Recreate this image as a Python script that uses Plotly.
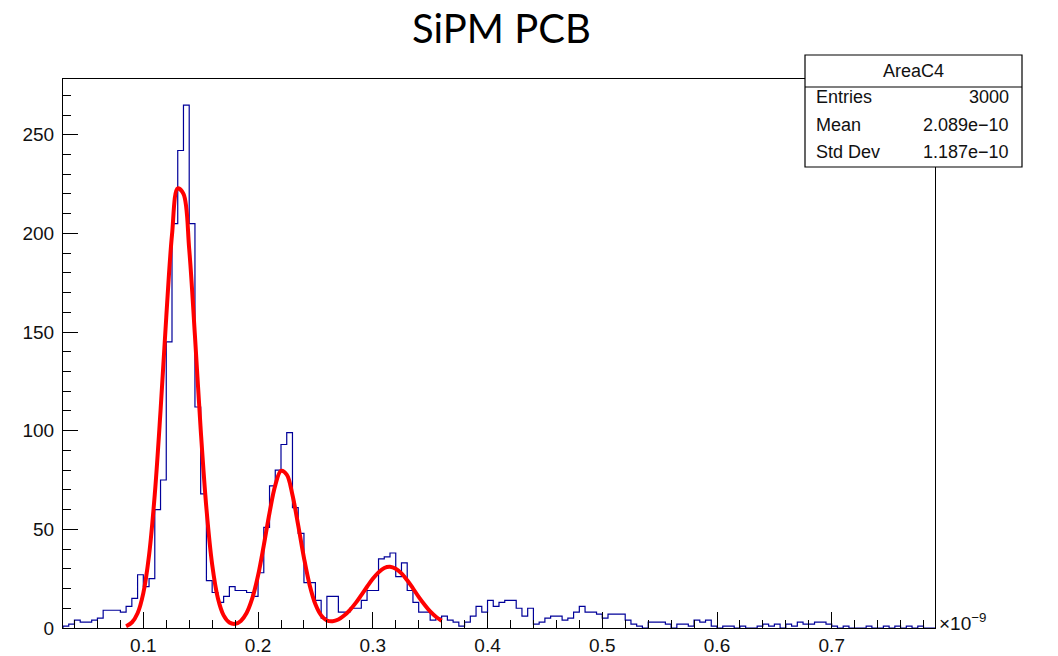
import numpy as np
import plotly.graph_objects as go

# ---- data ----
BIN_LO = 0.03
BIN_W = 0.005
counts = [1, 2, 4, 3, 3, 4, 5, 9, 9, 9, 8, 11, 15,
          27, 21, 25, 60, 75, 145, 205, 242, 265, 205, 112, 68, 24,
          18, 13, 16, 21, 19, 19, 18, 16, 28, 51, 72, 80, 93, 99, 61, 48,
          23, 23, 14, 5, 16, 16, 8, 8, 10, 10, 14, 19, 19, 35, 36, 38, 26, 33, 19, 13, 8, 8, 4, 5, 6, 4, 3,
          1, 3, 6, 11, 8, 14, 11, 13, 14, 14, 10, 6, 10, 2, 3, 5, 6, 6, 4, 5,
          8, 11, 8, 8, 7, 5, 7, 7, 7, 4, 2, 1, 0, 3, 3, 3, 2, 0, 2, 2,
          1, 4, 3, 4, 1, 0, 1, 1, 0, 1, 0, 0, 1, 2, 1, 2, 0, 2, 1, 3,
          2, 2, 3, 3, 2, 1, 0, 1, 0, 0, 0, 1, 0, 0, 1, 0, 1, 0, 1, 0, 1, 0, 0]

FIT_X0 = 0.085
FIT_STEP = 0.005
fit_vals = [0.9, 2.8, 7.5, 17.7, 36.9, 67.8, 110.0, 157.5, 199.3, 222.8,
            220.0, 192.0, 148.0, 100.7, 60.6, 32.2, 15.1, 6.4, 2.8, 2.1,
            3.6, 7.6, 15.1, 26.6, 41.9, 58.4, 72.3, 79.6, 77.7, 67.4,
            52.0, 35.6, 21.7, 12.0, 6.4, 3.8, 3.4, 4.3, 6.3, 9.1,
            12.6, 16.7, 20.9, 24.9, 28.2, 30.4, 31.0, 30.0, 27.7, 24.2,
            20.1, 15.8, 11.9, 8.4, 5.7, 3.7]

x_ticks = [0.1, 0.2, 0.3, 0.4, 0.5, 0.6, 0.7]
x_ticklabels = ["0.1", "0.2", "0.3", "0.4", "0.5", "0.6", "0.7"]
y_ticks = [0, 50, 100, 150, 200, 250]
y_ticklabels = ["0", "50", "100", "150", "200", "250"]

stats_title = "AreaC4"
stats_rows = [("Entries", "3000"), ("Mean", "2.089e\u221210"), ("Std Dev", "1.187e\u221210")]
title_text = "SiPM PCB"

# ---- derived ----
edges = BIN_LO + BIN_W * np.arange(len(counts) + 1)
hx = [edges[0]] + list(edges)
hy = [0] + list(counts) + [counts[-1]]
fx = FIT_X0 + FIT_STEP * np.arange(len(fit_vals))

X0, X1 = BIN_LO, BIN_LO + BIN_W * len(counts)
YMAX = 1.05 * max(counts)

fig = go.Figure()
fig.add_trace(go.Scatter(x=hx, y=hy, mode="lines", line=dict(color="#000099", width=1.2, shape="hv"),
                         hoverinfo="skip", showlegend=False))
fig.add_trace(go.Scatter(x=fx, y=fit_vals, mode="lines",
                         line=dict(color="#ff0000", width=4, shape="spline", smoothing=1.0),
                         hoverinfo="skip", showlegend=False))

W, H = 1058, 656
L, R, T, B = 63, 935, 79, 628

def px(xp):
    return (xp - L) / (R - L)

def py(yp):
    return (B - yp) / (B - T)

font_axis = dict(family="Liberation Sans, Arial, sans-serif", size=19, color="#111111")

fig.update_layout(
    width=W, height=H, template="none",
    paper_bgcolor="white", plot_bgcolor="white",
    margin=dict(l=L, r=W - R, t=T, b=H - B, pad=0),
    showlegend=False,
    xaxis=dict(range=[X0, X1], tickvals=x_ticks, ticktext=x_ticklabels,
               ticks="inside", ticklen=16, tickwidth=1, tickcolor="black",
               minor=dict(ticks="inside", ticklen=8, dtick=0.02, tick0=0.0, tickcolor="black", showgrid=False),
               showline=True, linecolor="black", linewidth=1, mirror=True,
               showgrid=False, zeroline=False, tickfont=font_axis, automargin=False),
    yaxis=dict(range=[0, YMAX], tickvals=y_ticks, ticktext=y_ticklabels,
               ticks="inside", ticklen=15, tickwidth=1, tickcolor="black",
               minor=dict(ticks="inside", ticklen=8, dtick=10, tick0=0, tickcolor="black", showgrid=False),
               showline=True, linecolor="black", linewidth=1, mirror=True,
               showgrid=False, zeroline=False, tickfont=font_axis, automargin=False,
               ticklabelstandoff=4),
)

shapes = []
annotations = []
# stats box
bx0, bx1, by0, by1 = 805, 1022, 55, 167
shapes.append(dict(type="rect", xref="paper", yref="paper", x0=px(bx0), x1=px(bx1), y0=py(by1), y1=py(by0),
                   line=dict(color="black", width=1.2), fillcolor="white", layer="above"))
shapes.append(dict(type="line", xref="paper", yref="paper", x0=px(bx0), x1=px(bx1), y0=py(87), y1=py(87),
                   line=dict(color="black", width=1.2), layer="above"))
stat_font = dict(family="Liberation Sans, Arial", size=18, color="#111")
annotations.append(dict(xref="paper", yref="paper", x=px(913), y=py(71), text=stats_title, showarrow=False,
                        xanchor="center", yanchor="middle", font=stat_font))
row_y = [97, 125, 152]
for (lab, val), yy in zip(stats_rows, row_y):
    annotations.append(dict(xref="paper", yref="paper", x=px(814), y=py(yy), text=lab, showarrow=False,
                            xanchor="left", yanchor="middle", font=stat_font))
    annotations.append(dict(xref="paper", yref="paper", x=px(1011), y=py(yy), text=val, showarrow=False,
                            xanchor="right", yanchor="middle", font=stat_font))
# exponent
annotations.append(dict(xref="paper", yref="paper", x=px(937), y=py(622), text="\u00d710<sup>\u22129</sup>",
                        showarrow=False, xanchor="left", yanchor="middle",
                        font=dict(family="Liberation Sans, Arial", size=19, color="#111")))
# title
annotations.append(dict(xref="paper", yref="paper", x=px(501), y=py(28), text=title_text, showarrow=False,
                        xanchor="center", yanchor="middle", font=dict(family="Lato, Open Sans, sans-serif", size=40, color="black")))

fig.update_layout(shapes=shapes, annotations=annotations)
fig.write_html("out.html")
